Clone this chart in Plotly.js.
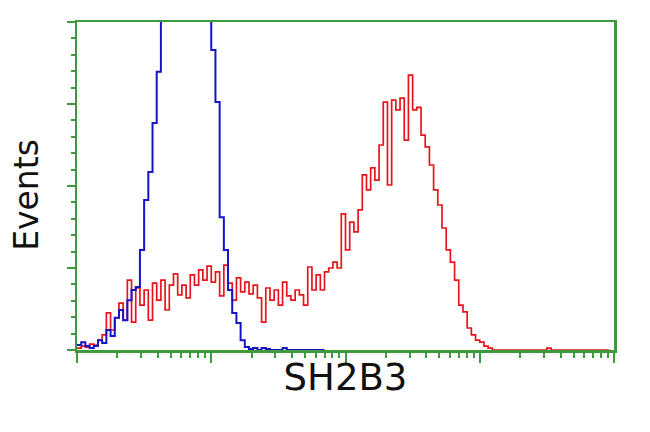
<!DOCTYPE html>
<html>
<head>
<meta charset="utf-8">
<script src="https://cdn.plot.ly/plotly-3.0.1.min.js"></script>
<style>html,body{margin:0;padding:0;background:#fff;}#chart{width:650px;height:432px;}</style>
</head>
<body>
<div id="chart"></div>
<script>
// Histogram channels: 32 channels per decade, starting at 10^0
const channelsPerDecade = 32;
const redCounts = [0.6,1.2,0.9,1.8,1.5,3,4.6,11.3,6.1,9.8,14.3,9.1,21.3,8.5,18.9,13.7,18.3,9.1,20.4,15.2,
  21.3,12.2,19.8,23.2,16.8,19.8,15.9,22.9,19.8,24.4,21.3,25.6,20.7,23.8,16.5,25.9,20.4,15.2,22,17.7,
  20.7,17.1,19.8,15.9,8.5,18.9,15.2,18.3,13.7,20.7,16.5,15.2,18.3,16.8,13.7,25.3,18.3,22.9,18.3,23.8,
  25,26.8,25,41.5,30.5,39,36,42.7,53.4,48.8,55.5,51.8,62.5,75.6,50.3,76.2,73.2,76.8,64,83.8,
  73.2,74,65.5,61.9,56.4,48.8,44.2,37.2,30.5,26.8,21.3,13.7,11.6,6.7,4.6,3,2.4,1.2,0.6,0,
  0,0,0,0,0,0,0,0,0,0,0,0,0.6,0,0,0,0,0,0,0,0,0,0,0,0,0,0,0];
const blueCounts = [1.5,2.4,1.2,0.6,1.2,3,2.1,6.1,4.3,9.8,12.2,9.1,15.2,18.3,19.2,30.5,45.7,54.3,69.2,84.8,
  115,120,125,118,130,128,135,126,130,122,118,112,91.5,75.6,40.5,30.5,18.3,11.3,8.2,3,
  0.9,0.3,0.6,0,0.6,0.3,0,0,0,0.6,0,0,0,0,0,0,0,0,0,0];
const xTitle = 'SH2B3';
const yTitle = 'Events';

function chanX(n){ const a=[]; for(let i=0;i<n;i++) a.push(Math.pow(10,i/channelsPerDecade)); return a; }

const green = '#3d9a3d';
const minorX = [];
for (let d=0; d<4; d++) for (let k=2; k<10; k++) minorX.push(k*Math.pow(10,d));

const traces = [
  {x: chanX(redCounts.length), y: redCounts, type:'scatter', mode:'lines',
   line:{shape:'hv', color:'#e8141c', width:1.7}, hoverinfo:'skip'},
  {x: chanX(blueCounts.length), y: blueCounts, type:'scatter', mode:'lines',
   line:{shape:'hv', color:'#1414c8', width:2}, hoverinfo:'skip'}
];

const layout = {
  width:650, height:432,
  margin:{l:77, r:36, t:22, b:82},
  paper_bgcolor:'#fff', plot_bgcolor:'#fff',
  showlegend:false,
  xaxis:{type:'log', range:[0,4], showgrid:false, zeroline:false,
    showline:true, linecolor:green, linewidth:2.5, mirror:true,
    ticks:'outside', ticklen:10, tickwidth:2, tickcolor:green,
    tickmode:'array', tickvals:[1,10,100,1000,10000], showticklabels:false,
    minor:{tickmode:'array', tickvals:minorX, ticks:'outside', ticklen:5, tickwidth:2, tickcolor:green, showgrid:false},
    title:{text:xTitle, font:{family:'DejaVu Sans', size:37, color:'#111'}, standoff:3}},
  yaxis:{range:[0,100], showgrid:false, zeroline:false,
    showline:true, linecolor:green, linewidth:2.5, mirror:true,
    ticks:'outside', ticklen:8, tickwidth:2, tickcolor:green,
    tickmode:'linear', tick0:0, dtick:25, showticklabels:false,
    minor:{tickmode:'linear', tick0:0, dtick:5, ticks:'outside', ticklen:4, tickwidth:2, tickcolor:green, showgrid:false},
    title:{text:''}},
  annotations:[{text:yTitle, xref:'paper', yref:'paper', x:-0.0931, y:0.473,
    xanchor:'center', yanchor:'middle', textangle:-90, showarrow:false,
    font:{family:'DejaVu Sans', size:33, color:'#111'}}]
};

Plotly.newPlot('chart', traces, layout, {displayModeBar:false, staticPlot:true});
</script>
</body>
</html>
